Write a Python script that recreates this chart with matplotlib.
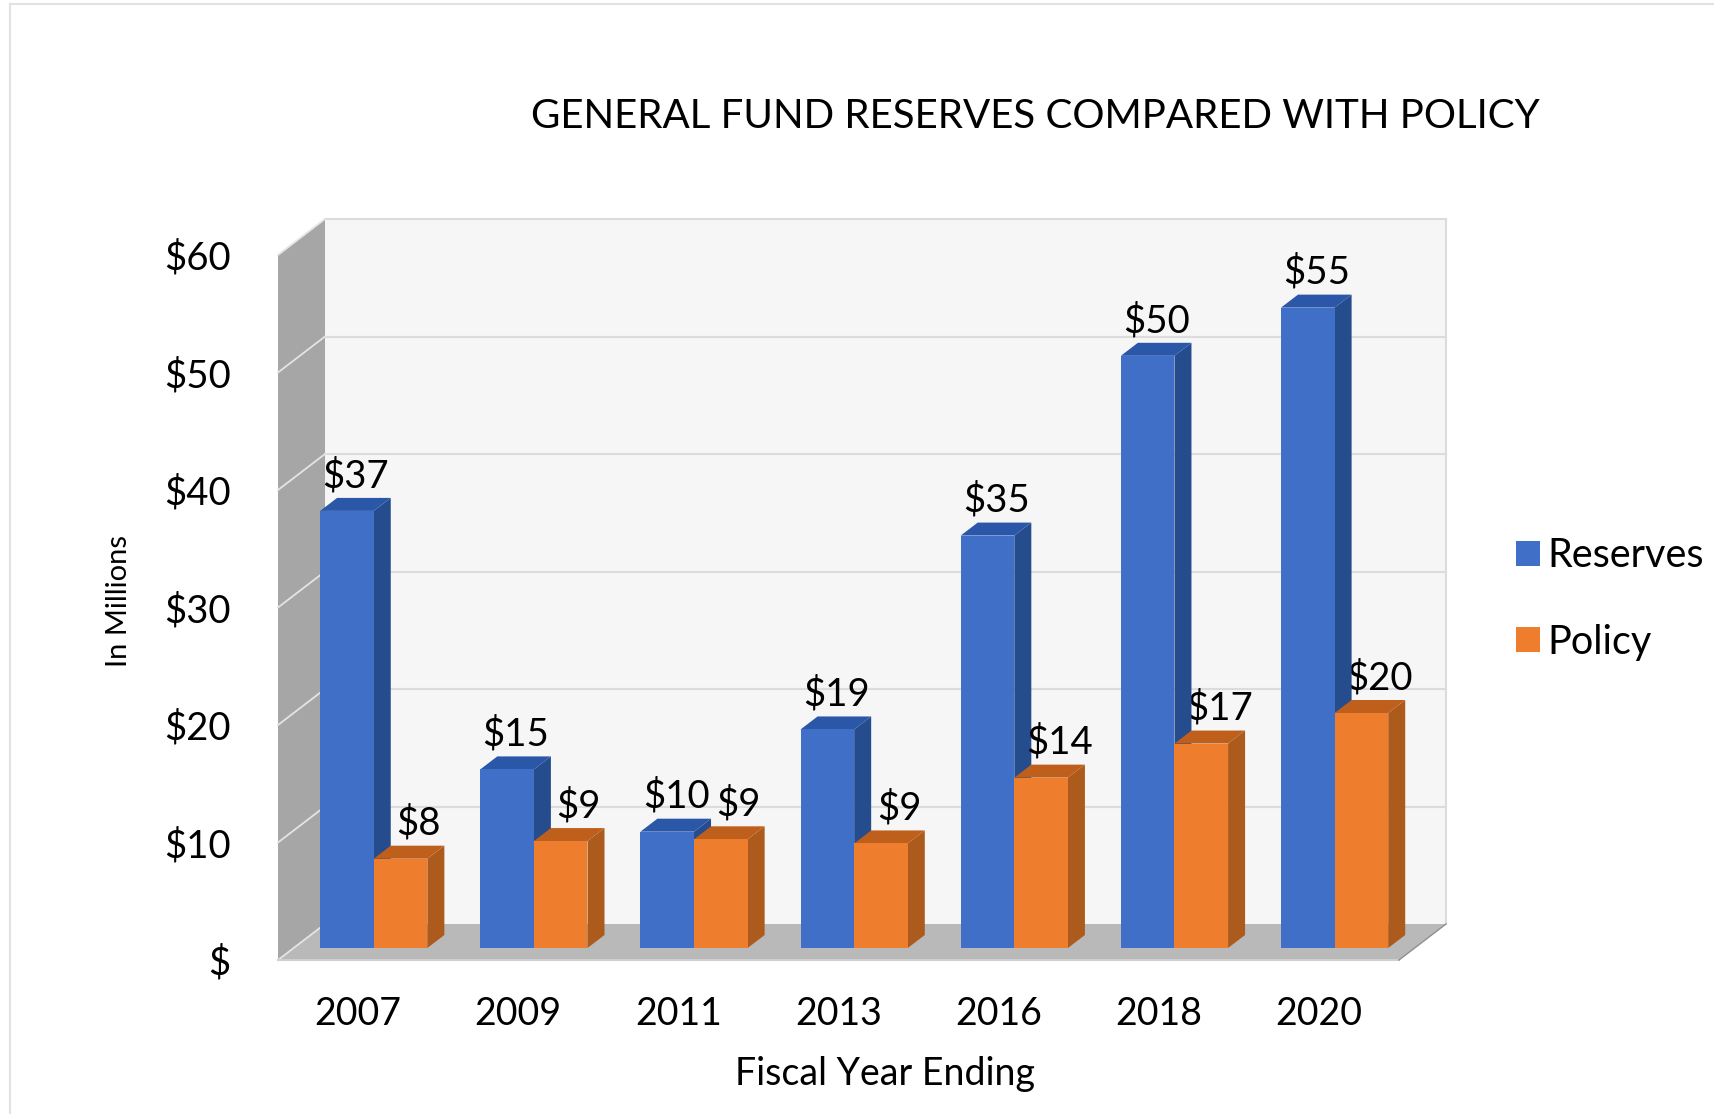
import matplotlib
matplotlib.use("Agg")
import matplotlib.pyplot as plt
from matplotlib.patches import Polygon
from matplotlib.lines import Line2D

plt.rcParams['font.family'] = ['Lato', 'DejaVu Sans']

# data
years = ["2007", "2009", "2011", "2013", "2016", "2018", "2020"]
reserves = [37.2, 15.2, 9.9, 18.6, 35.1, 50.4, 54.5]
policy = [7.6, 9.1, 9.25, 8.9, 14.5, 17.4, 20.0]
reserve_labels = ["$37", "$15", "$10", "$19", "$35", "$50", "$55"]
policy_labels = ["$8", "$9", "$9", "$9", "$14", "$17", "$20"]
y_ticks = [0, 10, 20, 30, 40, 50, 60]
y_labels = ["$", "$10", "$20", "$30", "$40", "$50", "$60"]

W, H = 1714, 1114
fig = plt.figure(figsize=(W / 100, H / 100), dpi=100)
ax = fig.add_axes([278 / W, 1 - 960 / H, 1121 / W, 705 / H])
ax.set_xlim(-0.5, 6.5)
ax.set_ylim(0, 60)

# depth of the fake 3d box, in data units
DX = 47 / 160.1
DY = 36 / 11.75
# bar depth and where the bars stand in the box
bar_w = 53.6 / 160.1
bar_dx = 17 / 160.1
bar_dy = 13 / 11.75
x0 = DX / 3
y0 = DY / 3

wall = "#f6f6f6"
side = "#a6a6a6"
floor = "#b9b9b9"
grid = "#dcdcdc"

def poly(pts, color, z=1):
    ax.add_patch(Polygon(pts, closed=True, facecolor=color, edgecolor="none", clip_on=False, zorder=z))

# walls and floor
poly([(-0.5 + DX, DY), (6.5 + DX, DY), (6.5 + DX, 60 + DY), (-0.5 + DX, 60 + DY)], wall)
poly([(-0.5, 0), (-0.5 + DX, DY), (-0.5 + DX, 60 + DY), (-0.5, 60)], side)
poly([(-0.5, 0), (6.5, 0), (6.5 + DX, DY), (-0.5 + DX, DY)], floor)

for t in y_ticks:
    if t > 0:
        ax.plot([-0.5 + DX, 6.5 + DX], [t + DY, t + DY], color=grid, lw=1.5, clip_on=False, zorder=2)
    ax.plot([-0.5, -0.5 + DX], [t, t + DY], color="#e4e4e4", lw=1.3, clip_on=False, zorder=2)
ax.plot([6.5 + DX, 6.5 + DX], [DY, 60 + DY], color=grid, lw=1.5, clip_on=False, zorder=2)
ax.plot([-0.5, 6.5], [0, 0], color="#cfcfcf", lw=1.5, clip_on=False, zorder=2)
ax.plot([6.5, 6.5 + DX], [0, DY], color="#8f8f8f", lw=1.0, clip_on=False, zorder=2)

series = [
    (reserves, reserve_labels, "Reserves", "#3f6fc6", "#254c8c", "#2b57a8", -bar_w / 2, 9),
    (policy, policy_labels, "Policy", "#ee7d2d", "#ad5a1d", "#bf5f1c", bar_w / 2, 18),
]

handles = []
z = 3
for i in range(len(years)):
    for vals, labs, name, col, col_side, col_top, shift, lab_off in series:
        xl = i + x0 + shift - bar_w / 2
        xr = xl + bar_w
        top = vals[i] + y0
        b = ax.bar(xl + bar_w / 2, vals[i], width=bar_w, bottom=y0, color=col, clip_on=False, zorder=z + 1, label=name)
        if i == 0:
            handles.append(b)
        poly([(xr, y0), (xr + bar_dx, y0 + bar_dy), (xr + bar_dx, top + bar_dy), (xr, top)], col_side, z)
        poly([(xl, top), (xr, top), (xr + bar_dx, top + bar_dy), (xl + bar_dx, top + bar_dy)], col_top, z)
        ax.annotate(labs[i], (xl + bar_w / 2, top), xytext=(lab_off, 35), textcoords="offset pixels",
                    ha="center", va="center", fontsize=27.5, zorder=20, annotation_clip=False)
        z += 2

# axes
ax.set_xticks(range(len(years)))
ax.set_xticklabels(years, fontsize=27)
ax.set_yticks(y_ticks)
ax.set_yticklabels(y_labels, fontsize=27.5)
ax.tick_params(length=0)
ax.tick_params(axis="x", pad=26)
ax.tick_params(axis="y", pad=34)
for s in ax.spines.values():
    s.set_visible(False)
ax.patch.set_visible(False)

fig.text(1035 / W, 1 - 116 / H, "GENERAL FUND RESERVES COMPARED WITH POLICY", ha="center", va="center", fontsize=29)
fig.text(885 / W, 1 - 1074 / H, "Fiscal Year Ending", ha="center", va="center", fontsize=27)
fig.text(119 / W, 1 - 601 / H, "In Millions", ha="center", va="center", rotation=90, fontsize=21)

ax.legend(handles, ["Reserves", "Policy"], loc="center left", bbox_to_anchor=(1516 / W, 1 - 599 / H),
          bbox_transform=fig.transFigure, frameon=False, fontsize=28.5, handlelength=0.6, handleheight=0.6,
          handletextpad=0.2, labelspacing=1.25, borderpad=0, borderaxespad=0)

# thin frame round the page
fig.add_artist(Line2D([10 / W, 10 / W], [0, 1 - 4 / H], color="#e2e2e2", lw=1.5))
fig.add_artist(Line2D([10 / W, 1], [1 - 4 / H, 1 - 4 / H], color="#e2e2e2", lw=1.5))

fig.savefig("out.png", dpi=100)
